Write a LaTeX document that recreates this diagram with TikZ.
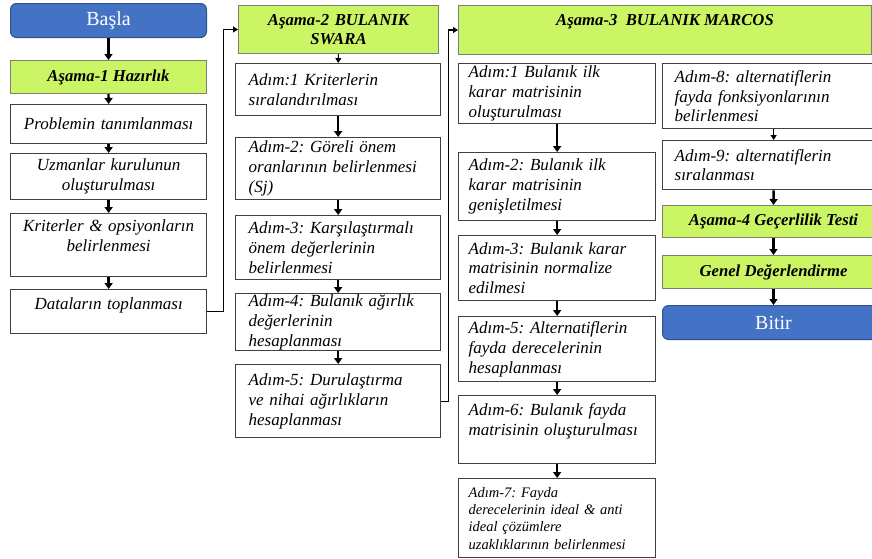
\documentclass[tikz,border=0pt]{standalone}
\usepackage{fontspec}
\setmainfont{Liberation Serif}
\usetikzlibrary{arrows.meta}
\definecolor{lgreen}{RGB}{204,245,102}
\definecolor{sblue}{RGB}{68,114,196}
\definecolor{bblue}{RGB}{47,82,143}
\definecolor{bord}{RGB}{64,64,64}
\definecolor{gbord}{RGB}{120,130,110}
\begin{document}
\frenchspacing
\begin{tikzpicture}[x=1pt,y=-1pt,
  base/.style={anchor=north west, inner ysep=0pt, line width=1.3pt},
  wbox/.style={base, draw=bord, fill=white, font=\fontsize{17}{19.8}\selectfont\itshape},
  lbox/.style={wbox, inner xsep=6pt, text width=184pt, align=center, minimum width=196pt},
  sbox/.style={wbox, inner xsep=13pt, text width=179pt, align=left, minimum width=205pt},
  mbox/.style={wbox, inner xsep=10pt, text width=177pt, align=left, minimum width=197pt},
  rbox/.style={wbox, inner xsep=12pt, text width=198pt, align=left, minimum width=222pt},
  gbox/.style={base, draw=gbord, line width=1pt, fill=lgreen, align=center, inner xsep=6pt, font=\fontsize{16.7}{19}\selectfont\bfseries\itshape},
  bbox/.style={base, draw=bblue, line width=1pt, fill=sblue, text=white, rounded corners=6pt, font=\fontsize{20}{24}\selectfont},
  arr/.style={line width=2.4pt, -{Triangle[width=8pt,length=6pt]}},
  thinarr/.style={line width=1pt, -{Triangle[width=6pt,length=5pt]}},
  conn/.style={line width=1.3pt, -{Triangle[width=6pt,length=5pt]}}
]
\useasboundingbox (0,0) rectangle (872,558);
\clip (0,0) rectangle (872,558);
\fill[white] (0,0) rectangle (872,558);

% column 1
\node[bbox, minimum width=196pt, minimum height=34pt] (start) at (10,3) {Başla};
\node[gbox, minimum width=196pt, minimum height=33pt] (a1) at (10,60) {Aşama-1 Hazırlık};
\node[lbox, minimum height=39pt] (p1) at (10,104) {Problemin tanımlanması};
\node[lbox, minimum height=46pt] (p2) at (10,153) {Uzmanlar kurulunun\\oluşturulması};
\node[lbox, minimum height=63pt] (p3) at (10,213) {Kriterler \& opsiyonların\\belirlenmesi\\ \mbox{}};
\node[lbox, minimum height=44pt, text height=11pt, text depth=16pt] (p4) at (10,289) {Dataların toplanması};

% column 2
\node[gbox, minimum width=200pt, minimum height=48pt, text width=186pt] (a2) at (238,5) {Aşama-2 BULANIK\\SWARA};
\node[sbox, minimum height=52pt] (s1) at (235,63) {Adım:1 Kriterlerin\\sıralandırılması};
\node[sbox, minimum height=62pt] (s2) at (235,137) {Adım-2: Göreli önem\\oranlarının belirlenmesi\\(Sj)};
\node[sbox, minimum height=64pt] (s3) at (235,215) {Adım-3: Karşılaştırmalı\\önem değerlerinin\\belirlenmesi};
\node[sbox, minimum height=57pt] (s4) at (235,293) {Adım-4: Bulanık ağırlık\\değerlerinin\\hesaplanması};
\node[sbox, minimum height=73pt] (s5) at (235,364) {Adım-5: Durulaştırma\\ve nihai ağırlıkların\\hesaplanması};

% column 3
\node[gbox, minimum width=413pt, minimum height=49pt, text height=12pt, text depth=21pt] (a3) at (458,5) {Aşama-3~~BULANIK MARCOS};
\node[mbox, minimum height=60pt] (m1) at (458,63) {Adım:1 Bulanık ilk\\karar matrisinin\\oluşturulması};
\node[mbox, minimum height=68pt] (m2) at (458,152) {Adım-2: Bulanık ilk\\karar matrisinin\\genişletilmesi};
\node[mbox, minimum height=65pt] (m3) at (458,235) {Adım-3: Bulanık karar\\matrisinin normalize\\edilmesi};
\node[mbox, minimum height=65pt] (m5) at (458,316) {Adım-5: Alternatiflerin\\fayda derecelerinin\\hesaplanması};
\node[mbox, minimum height=68pt] (m6) at (458,395) {Adım-6: Bulanık fayda\\matrisinin oluşturulması\\ \mbox{}};
\node[mbox, minimum height=79pt, font=\fontsize{14.5}{17.3}\selectfont\itshape] (m7) at (458,478) {Adım-7: Fayda\\derecelerinin ideal \& anti\\ideal çözümlere\\uzaklıklarının belirlenmesi};

% column 4
\node[rbox, minimum height=65pt] (r8) at (662,63) {Adım-8: alternatiflerin\\fayda fonksiyonlarının\\belirlenmesi};
\node[rbox, minimum height=49pt] (r9) at (662,140) {Adım-9: alternatiflerin\\sıralanması};
\node[gbox, minimum width=222pt, minimum height=32pt] (a4) at (662,205) {Aşama-4 Geçerlilik Testi};
\node[gbox, minimum width=222pt, minimum height=33pt] (gd) at (662,255) {Genel Değerlendirme};
\node[bbox, minimum width=222pt, minimum height=34pt] (fin) at (662,305) {Bitir};

% arrows
\draw[arr] (start.south) -- (a1.north);
\draw[arr] (a1.south) -- (p1.north);
\draw[arr] (p1.south) -- (p2.north);
\draw[arr] (p2.south) -- (p3.north);
\draw[arr] (p3.south) -- (p4.north);
\draw[conn] (p4.east) -- ++(16,0) |- (a2.west);

\draw[thinarr] (a2.south) -- (s1.north);
\draw[arr] (s1.south) -- (s2.north);
\draw[arr] (s2.south) -- (s3.north);
\draw[arr] (s3.south) -- (s4.north);
\draw[arr] (s4.south) -- (s5.north);
\draw[conn] (s5.east) -- ++(7,0) |- (a3.west);

\draw[arr] (m1.south) -- (m2.north);
\draw[arr] (m2.south) -- (m3.north);
\draw[arr] (m3.south) -- (m5.north);
\draw[arr] (m5.south) -- (m6.north);
\draw[arr] (m6.south) -- (m7.north);

\draw[thinarr] (r8.south) -- (r9.north);
\draw[arr] (r9.south) -- (a4.north);
\draw[arr] (a4.south) -- (gd.north);
\draw[arr] (gd.south) -- (fin.north);
\end{tikzpicture}
\end{document}
